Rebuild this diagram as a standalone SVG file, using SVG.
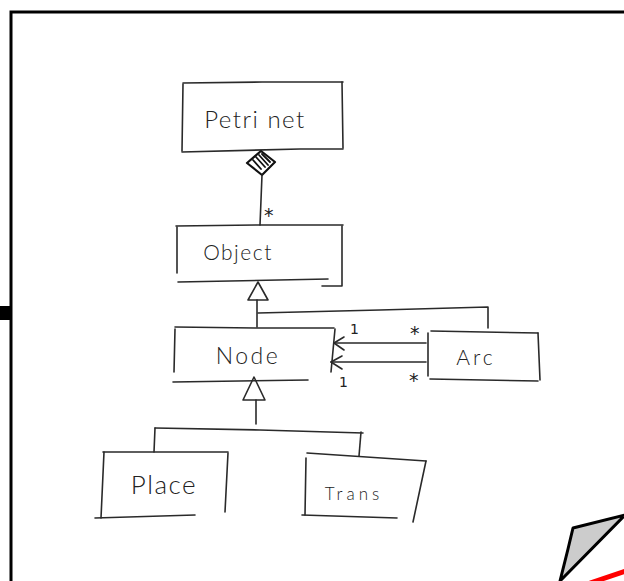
<svg xmlns="http://www.w3.org/2000/svg" width="624" height="581" viewBox="0 0 624 581">
  <style>
    .ink { fill: none; stroke: #2a2a2a; stroke-width: 1.6; stroke-linecap: round; stroke-linejoin: round; }
    .hatch { fill: none; stroke: #111; stroke-width: 1.8; stroke-linecap: round; }
    .label { font-family: "Lato", "Open Sans", "DejaVu Sans", sans-serif; font-weight: 300; fill: #222; }
    .mult { font-family: "DejaVu Sans", sans-serif; font-size: 14px; fill: #222; }
    .star { font-family: "DejaVu Sans", sans-serif; font-size: 19px; fill: #222; }
  </style>
  <rect width="624" height="581" fill="#ffffff"/>

  <!-- page frame -->
  <g id="frame">
    <path d="M11,581 L11,12 L624,12" fill="none" stroke="#000" stroke-width="3"/>
    <rect x="0" y="306" width="11" height="14" fill="#000"/>
    <path d="M560,581 L568,549 L573,528 L625,515 Z" fill="#cccccc" stroke="#000" stroke-width="3" stroke-linejoin="round"/>
    <path d="M590,583 L626,571" stroke="#ff0000" stroke-width="5" fill="none"/>
  </g>

  <!-- classes -->
  <g id="petrinet">
    <path class="ink" d="M183,83 L262,82 L343,82"/>
    <path class="ink" d="M183,84 L182,151"/>
    <path class="ink" d="M342,82 L343,148"/>
    <path class="ink" d="M182,152 L300,149 L343,149"/>
    <text class="label" x="255" y="128" font-size="24" text-anchor="middle" letter-spacing="1.5">Petri net</text>
  </g>

  <g id="object">
    <path class="ink" d="M176,226 L260,225 L343,225"/>
    <path class="ink" d="M177,227 L177,273"/>
    <path class="ink" d="M342,226 L342,286 L322,286"/>
    <path class="ink" d="M178,282 L328,279"/>
    <text class="label" x="238" y="260" font-size="21" text-anchor="middle" letter-spacing="1.5">Object</text>
  </g>

  <g id="node">
    <path class="ink" d="M175,327 L255,328 L334,328"/>
    <path class="ink" d="M175,329 L174,372"/>
    <path class="ink" d="M335,329 L331,372"/>
    <path class="ink" d="M173,382 L308,380"/>
    <text class="label" x="248" y="364" font-size="23" text-anchor="middle" letter-spacing="2.5">Node</text>
  </g>

  <g id="arc">
    <path class="ink" d="M431,331 L538,333"/>
    <path class="ink" d="M428,333 L428,376"/>
    <path class="ink" d="M538,333 L540,380"/>
    <path class="ink" d="M430,379 L538,381"/>
    <text class="label" x="476" y="365" font-size="21" text-anchor="middle" letter-spacing="3">Arc</text>
  </g>

  <g id="place">
    <path class="ink" d="M104,452 L101,518"/>
    <path class="ink" d="M103,452 L228,452"/>
    <path class="ink" d="M228,453 L225,512"/>
    <path class="ink" d="M95,518 L195,515"/>
    <text class="label" x="164" y="494" font-size="26" text-anchor="middle" letter-spacing="1.5">Place</text>
  </g>

  <g id="trans">
    <path class="ink" d="M306,458 L305,515"/>
    <path class="ink" d="M307,453 L426,461"/>
    <path class="ink" d="M426,461 L413,522"/>
    <path class="ink" d="M302,515 L397,518"/>
    <text class="label" x="354" y="500" font-size="17" text-anchor="middle" letter-spacing="4">Trans</text>
  </g>

  <!-- connectors -->
  <g id="connectors">
    <!-- composition: Petri net owns objects -->
    <path d="M247,163 L261,151 L275,162 L262,175 Z" fill="#fff" stroke="#111" stroke-width="2.2" stroke-linejoin="round"/>
    <path class="hatch" d="M253,160 L261,169 M256,157 L265,167 M259,155 L268,165 M262,154 L270,162"/>
    <path class="ink" d="M262,175 L261,200 L260,225"/>
    <text class="star" x="264" y="222">*</text>

    <!-- Node and Arc specialise Object -->
    <path class="ink" d="M258,282 L248,300 L268,300 Z" fill="#fff"/>
    <path class="ink" d="M257,300 L257,327"/>
    <path class="ink" d="M258,313 L380,310 L488,307 L488,328"/>

    <!-- Arc source / target -->
    <path class="ink" d="M426,343 L334,343"/>
    <path class="ink" d="M344,337 L334,343 L344,350"/>
    <path class="ink" d="M426,362 L331,362"/>
    <path class="ink" d="M342,356 L331,362 L342,369"/>
    <text class="mult" x="350" y="334">1</text>
    <text class="mult" x="339" y="387">1</text>
    <text class="star" x="410" y="340">*</text>
    <text class="star" x="409" y="387">*</text>

    <!-- Place and Trans specialise Node -->
    <path class="ink" d="M254,377 L243,400 L265,400 Z" fill="#fff"/>
    <path class="ink" d="M256,400 L256,424"/>
    <path class="ink" d="M155,428 L260,430 L363,433"/>
    <path class="ink" d="M155,428 L154,452"/>
    <path class="ink" d="M361,432 L359,456"/>
  </g>
</svg>
